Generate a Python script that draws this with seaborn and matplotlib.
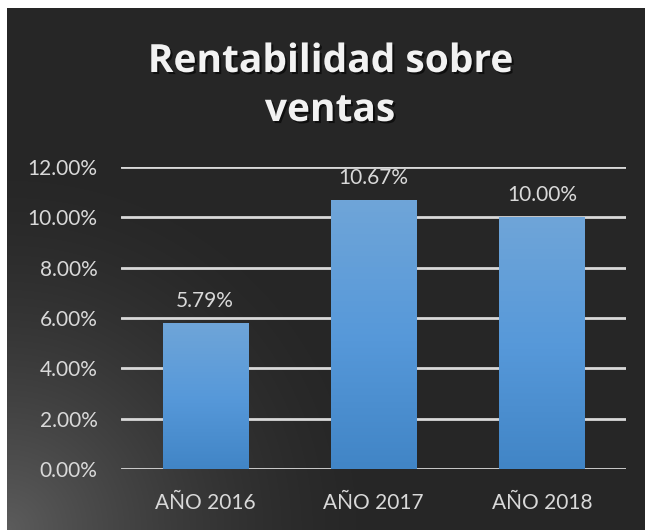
import numpy as np
import matplotlib
matplotlib.use("Agg")
import matplotlib.pyplot as plt
import matplotlib.patheffects as pe
from matplotlib.colors import LinearSegmentedColormap
import seaborn as sns
import pandas as pd

categories = ["AÑO 2016", "AÑO 2017", "AÑO 2018"]
values = [5.79, 10.67, 10.00]
yticks = [0, 2, 4, 6, 8, 10, 12]
title_lines = ["Rentabilidad sobre", "ventas"]

sns.set_theme(style="dark")
plt.rcParams['font.family'] = ['Lato', 'DejaVu Sans']

W, H = 645, 530
fig = plt.figure(figsize=(W / 100, H / 100), dpi=100)
fig.patch.set_facecolor("white")

# background panel with radial light from bottom-left
bg = fig.add_axes([7 / W, 0, 1 - 7 / W, (H - 8) / H])
bg.set_axis_off()
yy, xx = np.mgrid[0:522, 0:638]
d = np.sqrt((xx / 1.0) ** 2 + ((521 - yy) / 1.0) ** 2)
t = np.clip(1 - d / 380, 0, 1) ** 1.6
base = np.array([0x26, 0x26, 0x26]) / 255
light = np.array([0x5c, 0x5c, 0x5c]) / 255
img = base[None, None, :] * (1 - t[..., None]) + light[None, None, :] * t[..., None]
bg.imshow(img, aspect="auto", extent=[0, 1, 0, 1], origin="upper")
bg.set_xlim(0, 1)
bg.set_ylim(0, 1)

ax = fig.add_axes([121 / W, (H - 469) / H, (626 - 121) / W, (469 - 167) / H])
ax.patch.set_alpha(0)
df = pd.DataFrame({"cat": categories, "val": values})
sns.barplot(data=df, x="cat", y="val", ax=ax, color="#5b9bd5", width=0.505,
            saturation=1)
ax.set_ylim(0, 12)
ax.set_yticks(yticks)
ax.set_yticklabels([f"{v:.2f}%" for v in yticks])
ax.set_xlabel("")
ax.set_ylabel("")
for s in ax.spines.values():
    s.set_visible(False)
ax.grid(True, axis="y", color="#d9d9d9", linewidth=2)
ax.grid(False, axis="x")
ax.set_axisbelow(True)
ax.tick_params(axis="y", colors="#d9d9d9", labelsize=15, pad=17, length=0)
ax.tick_params(axis="x", colors="#d9d9d9", labelsize=15, pad=17, length=0)

cmap = LinearSegmentedColormap.from_list("bar", ["#4185c6", "#5799da", "#6fa5d8"])
grad = np.linspace(0, 1, 256).reshape(-1, 1)
for p, v in zip(ax.patches, values):
    x0, w = p.get_x(), p.get_width()
    p.set_facecolor("none")
    p.set_edgecolor("none")
    im = ax.imshow(grad, cmap=cmap, aspect="auto", origin="lower",
                   extent=[x0, x0 + w, 0, v], zorder=3)
    im.set_clip_path(p)
    ax.text(x0 + w / 2, v + 0.64, f"{v:.2f}%", ha="center", va="baseline",
            color="#d9d9d9", fontsize=15, zorder=4)
ax.set_xlim(-0.5, 2.5)
ax.set_ylim(0, 12)

shadow = [pe.withSimplePatchShadow(offset=(1.5, -1.5), shadow_rgbFace="black", alpha=0.6)]
for line, yb in zip(title_lines, [72, 121]):
    fig.text(330 / W, 1 - yb / H, line, ha="center", va="baseline", color="#f2f2f2",
             fontsize=28, fontweight="bold", family=["Open Sans", "DejaVu Sans"],
             path_effects=shadow)

fig.savefig("out.png", dpi=100)
